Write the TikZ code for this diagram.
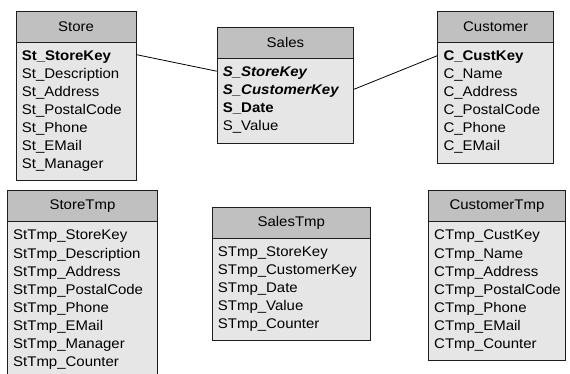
\documentclass[tikz,border=0pt]{standalone}
\usepackage{fontspec}
\setmainfont{Liberation Sans}[FakeStretch=1.07]
\usetikzlibrary{calc}

\definecolor{hdrgray}{HTML}{C0C0C0}
\definecolor{bodygray}{HTML}{E6E6E6}
\definecolor{edgegray}{HTML}{1E1E1E}

\tikzset{
  hdrbox/.style={draw=edgegray, fill=hdrgray, line width=0.9pt, inner sep=0pt,
    minimum height=31pt, anchor=north west, font=\fontsize{14pt}{18pt}\selectfont},
  bodybox/.style={draw=edgegray, fill=bodygray, line width=0.9pt, inner sep=0pt,
    anchor=north west},
  rowtext/.style={inner sep=0pt, anchor=base west, font=\fontsize{14pt}{18pt}\selectfont},
  conn/.style={draw=black, line width=0.8pt}
}

% table: prefix, left x, right x, top y, bottom y, title, rows
\newcommand\erbox[7]{%
  \node[hdrbox, minimum width={#3-#2}] (#1-h) at (#2,#4) {#6};
  \node[bodybox, minimum width={#3-#2}, minimum height={#5-#4-31}] (#1-b) at (#2,#4+31) {};
  \foreach \r [count=\i] in {#7}
    \node[rowtext] (#1-r\i) at (#2+6,#4+50+18*\i-18) {\r};
}

\begin{document}
\begin{tikzpicture}[x=1pt,y=-1pt]
\path[use as bounding box, clip] (0,0) rectangle (570,374);

\erbox{store}{15.7}{135.7}{10.7}{180}{Store}
  {\textbf{St\_StoreKey},St\_Description,St\_Address,St\_PostalCode,St\_Phone,St\_EMail,St\_Manager}
\erbox{sales}{216.7}{353.3}{26.7}{142.7}{Sales}
  {\textbf{\textit{S\_StoreKey}},\textbf{\textit{S\_CustomerKey}},\textbf{S\_Date},S\_Value}
\erbox{cust}{437.3}{553}{10.7}{162.7}{Customer}
  {\textbf{C\_CustKey},C\_Name,C\_Address,C\_PostalCode,C\_Phone,C\_EMail}

\erbox{storetmp}{7}{157}{190}{382}{StoreTmp}
  {StTmp\_StoreKey,StTmp\_Description,StTmp\_Address,StTmp\_PostalCode,StTmp\_Phone,StTmp\_EMail,StTmp\_Manager,StTmp\_Counter}
\erbox{salestmp}{211.7}{370}{206.7}{340}{SalesTmp}
  {STmp\_StoreKey,STmp\_CustomerKey,STmp\_Date,STmp\_Value,STmp\_Counter}
\erbox{custtmp}{428}{565}{190}{360}{CustomerTmp}
  {CTmp\_CustKey,CTmp\_Name,CTmp\_Address,CTmp\_PostalCode,CTmp\_Phone,CTmp\_EMail,CTmp\_Counter}

% relationships between key rows
\coordinate (k-store) at ([yshift=6pt]store-r1.base);
\coordinate (k-sales1) at ([yshift=5.5pt]sales-r1.base);
\coordinate (k-sales2) at ([yshift=5.5pt]sales-r2.base);
\coordinate (k-cust) at ([yshift=5pt]cust-r1.base);
\draw[conn] (store-b.east |- k-store) -- (sales-b.west |- k-sales1);
\draw[conn] (sales-b.east |- k-sales2) -- (cust-b.west |- k-cust);
\end{tikzpicture}
\end{document}
